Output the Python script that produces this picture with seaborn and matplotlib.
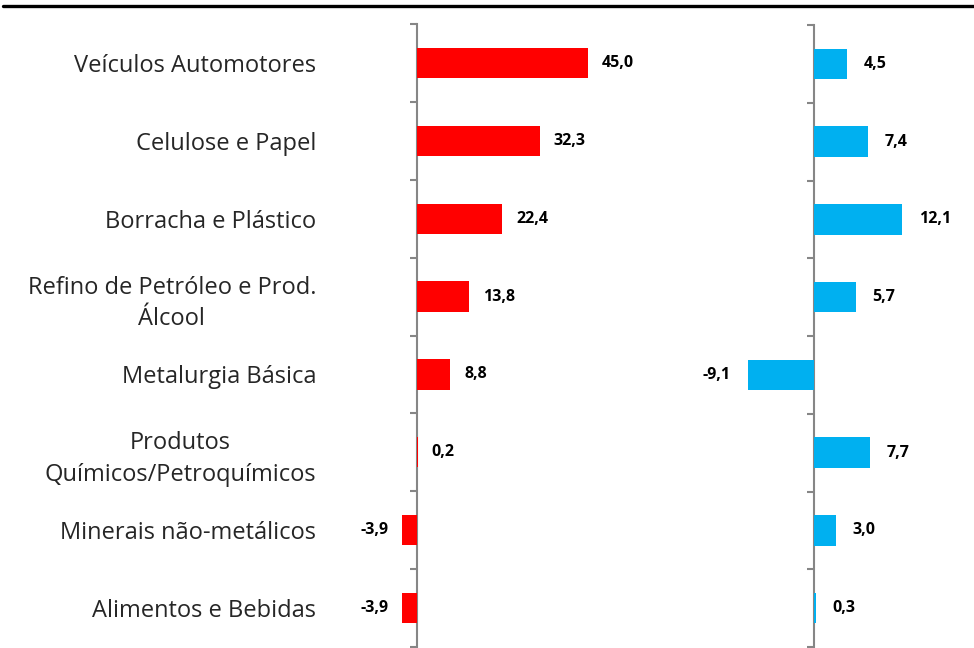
import numpy as np
import pandas as pd
import seaborn as sns
import matplotlib.pyplot as plt
from matplotlib.lines import Line2D

# categories and values
categories = [
    "Veículos Automotores",
    "Celulose e Papel",
    "Borracha e Plástico",
    "Refino de Petróleo e Prod.\nÁlcool",
    "Metalurgia Básica",
    "Produtos\nQuímicos/Petroquímicos",
    "Minerais não-metálicos",
    "Alimentos e Bebidas",
]
left_values = [45.0, 32.3, 22.4, 13.8, 8.8, 0.2, -3.9, -3.9]
right_values = [4.5, 7.4, 12.1, 5.7, -9.1, 7.7, 3.0, 0.3]

sns.set_theme(style="white")
plt.rcParams["font.family"] = ["Open Sans", "DejaVu Sans"]

W, H = 974, 648
fig = plt.figure(figsize=(W / 100, H / 100), dpi=100)

gray = "#868686"


def px_axes(x0, x1, y0, y1):
    return fig.add_axes([x0 / W, 1 - y1 / H, (x1 - x0) / W, (y1 - y0) / H])


def panel(ax, values, color, zero_px, x0, x1, scale, pad, show_labels):
    df = pd.DataFrame({"cat": categories, "val": values})
    sns.barplot(data=df, x="val", y="cat", orient="h", color=color,
                saturation=1, width=0.39, linewidth=0, ax=ax)
    for bar in ax.containers[0]:
        bar.set_zorder(3)
    ax.set_xlim(-(zero_px - x0) / scale, (x1 - zero_px) / scale)
    ax.set_ylim(len(categories) - 0.5, -0.5)
    ax.xaxis.set_visible(False)
    ax.set_ylabel("")
    for s in ["top", "right", "bottom"]:
        ax.spines[s].set_visible(False)
    ax.spines["left"].set_position(("data", 0))
    ax.spines["left"].set_color(gray)
    ax.spines["left"].set_linewidth(1.5)
    ax.set_yticks(np.arange(-0.5, len(categories)), minor=True)
    ax.tick_params(axis="y", which="minor", left=True, length=5, width=1.5,
                   color=gray, direction="out")
    ax.tick_params(axis="y", which="major", length=0,
                   pad=(zero_px - 316) * 0.72, labelsize=17,
                   labelleft=show_labels)
    if show_labels:
        for lbl in ax.get_yticklabels():
            lbl.set_multialignment("center")
            lbl.set_linespacing(1.4)
    labels = [f"{v:.1f}".replace(".", ",") for v in values]
    ax.bar_label(ax.containers[0], labels=labels, padding=pad,
                 fontsize=11.5, fontweight="bold", color="black")


ax1 = px_axes(330, 700, 24, 647)
panel(ax1, left_values, "#FF0000", 417, 330, 700, 3.8, 10, True)

ax2 = px_axes(720, 974, 25, 647)
panel(ax2, right_values, "#00B0F0", 814, 720, 974, 7.3, 12, False)

fig.add_artist(Line2D([3 / W, 1], [1 - 6 / H, 1 - 6 / H], color="black",
                      linewidth=2.4, transform=fig.transFigure))

fig.savefig("out.png", dpi=100)
